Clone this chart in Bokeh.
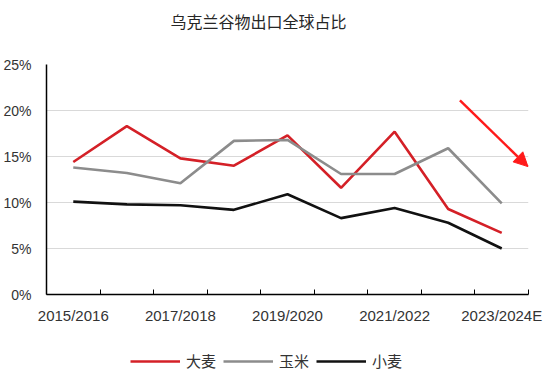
from bokeh.plotting import figure
from bokeh.layouts import column
from bokeh.models import (Legend, LegendItem, FixedTicker, PrintfTickFormatter,
                          Range1d, Title, Arrow, NormalHead)
from bokeh.embed import file_html
from bokeh.resources import INLINE
import numpy as np

categories = ["2015/2016", "2016/2017", "2017/2018", "2018/2019", "2019/2020",
              "2020/2021", "2021/2022", "2022/2023", "2023/2024E"]
barley = [14.4, 18.3, 14.8, 14.0, 17.3, 11.6, 17.7, 9.3, 6.7]
corn = [13.8, 13.2, 12.1, 16.7, 16.8, 13.1, 13.1, 15.9, 9.9]
wheat = [10.1, 9.8, 9.7, 9.2, 10.9, 8.3, 9.4, 7.8, 5.0]
series_names = ["大麦", "玉米", "小麦"]
y_ticks = [0, 5, 10, 15, 20, 25]

CJK = "Noto Sans CJK SC"
LAT = "Liberation Sans"
colors = ["#d42027", "#8c8c8c", "#111111"]

xs = np.arange(len(categories)) + 0.5
series = [barley, corn, wheat]

p = figure(frame_width=482, frame_height=230, output_backend="svg",
           toolbar_location=None, x_range=Range1d(0, len(categories)),
           y_range=Range1d(0, 25), min_border_left=35, min_border_right=21,
           min_border_top=0, min_border_bottom=30)
p.outline_line_color = None
p.background_fill_color = "white"

# spacer between frame and title (added first -> closest to frame)
top_spacer = Title(text=" ", text_font_size="1px", standoff=23)
p.add_layout(top_spacer, "above")
title = Title(text="乌克兰谷物出口全球占比", align="left", offset=124,
              text_font=CJK, text_font_size="16px", text_color="#262626",
              text_font_style="normal", standoff=12)
p.add_layout(title, "above")

for vals, c in zip(series, colors):
    p.line(xs, vals, line_color=c, line_width=2.6)

# x axis
label_pos = [float(xs[i]) for i in range(0, len(categories), 2)]
p.xaxis.ticker = FixedTicker(ticks=label_pos,
                             minor_ticks=list(range(len(categories) + 1)))
p.xaxis.major_label_overrides = {float(xs[i]): categories[i]
                                 for i in range(0, len(categories), 2)}
p.xaxis.major_tick_line_color = None
p.xaxis.minor_tick_line_color = "black"
p.xaxis.minor_tick_in = 5
p.xaxis.minor_tick_out = 0
p.xaxis.axis_line_color = "black"
p.xaxis.axis_line_width = 1.5
p.xaxis.major_label_text_font = LAT
p.xaxis.major_label_text_font_size = "15px"
p.xaxis.major_label_text_color = "#333333"
p.xaxis.major_label_standoff = 6

# y axis
p.yaxis.ticker = FixedTicker(ticks=y_ticks)
p.yaxis.formatter = PrintfTickFormatter(format="%d%%")
p.yaxis.major_tick_line_color = None
p.yaxis.minor_tick_line_color = None
p.yaxis.axis_line_color = "black"
p.yaxis.axis_line_width = 1.5
p.yaxis.major_label_text_font = LAT
p.yaxis.major_label_text_font_size = "14px"
p.yaxis.major_label_text_color = "#333333"
p.yaxis.major_label_standoff = 9

p.xgrid.grid_line_color = None
p.ygrid.grid_line_color = "#d9d9d9"
p.ygrid.grid_line_width = 1.2

# arrow annotation
p.add_layout(Arrow(end=NormalHead(size=14, fill_color="#ff1a1a", line_color="#ff1a1a"),
                   x_start=7.72, y_start=21.1, x_end=8.99, y_end=13.9,
                   line_color="#ff1a1a", line_width=2.5))

# legend strip below the chart (series drawn outside its view; only the legend shows)
pl = figure(width=538, height=50, output_backend="svg", toolbar_location=None,
            x_axis_type=None, y_axis_type=None, min_border=0,
            x_range=Range1d(0, 1), y_range=Range1d(0, 1))
pl.outline_line_color = None
pl.xgrid.grid_line_color = None
pl.ygrid.grid_line_color = None
legend_renderers = [pl.line(xs, vals, line_color=c, line_width=2.6)
                    for vals, c in zip(series, colors)]
legend = Legend(items=[LegendItem(label=n, renderers=[r])
                       for n, r in zip(series_names, legend_renderers)],
                orientation="horizontal", location=(84, 5),
                glyph_width=50, glyph_height=20, label_standoff=6, spacing=7,
                padding=0, margin=0, border_line_color=None,
                background_fill_alpha=0,
                label_text_font=CJK, label_text_font_size="15px",
                label_text_color="#333333")
pl.add_layout(legend, "center")

layout = column(p, pl, spacing=0)
open("out.html", "w").write(file_html(layout, INLINE))
